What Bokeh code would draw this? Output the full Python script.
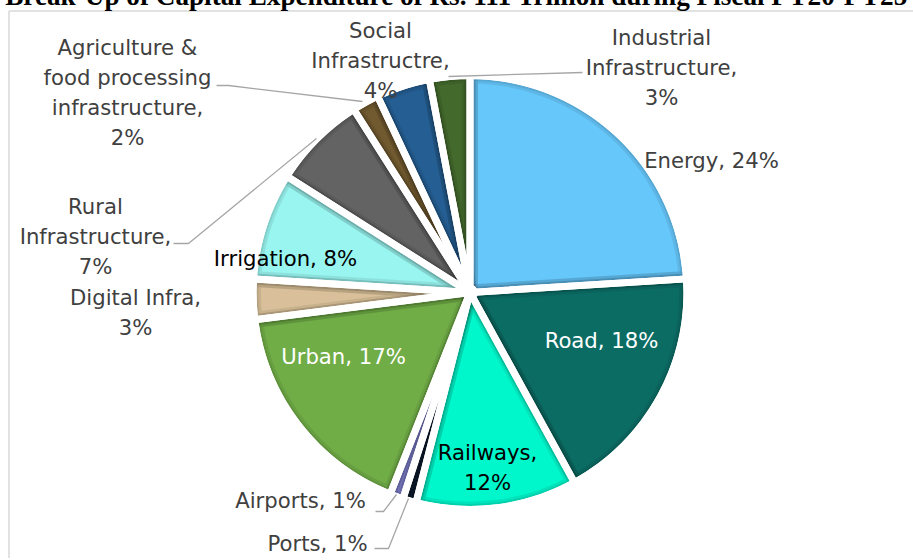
import math
from bokeh.plotting import figure
from bokeh.models import Range1d, ColumnDataSource
from bokeh.embed import file_html
from bokeh.resources import INLINE
from bokeh.core.properties import value

# ---------------- data ----------------
title_text = "Break-Up of Capital Expenditure of Rs. 111 Trillion during Fiscal FY20-FY25"
categories = ["Energy", "Road", "Railways", "Ports", "Airports", "Urban",
              "Digital Infra", "Irrigation", "Rural\nInfrastructure",
              "Agriculture &\nfood processing\ninfrastructure",
              "Social\nInfrastructre", "Industrial\nInfrastructure"]
shares = [24, 18, 12, 1, 1, 17, 3, 8, 7, 2, 4, 3]
separators = [" ", " ", "\n", " ", " ", " ", "\n", " ", "\n", "\n", "\n", "\n"]
colors = ["#66C7FA", "#0B6C64", "#00F7CB", "#0E1C30", "#8585D6", "#70AD47",
          "#D9C09A", "#98F5F0", "#636363", "#715A2F", "#245E92", "#43692C"]
label_colors = ["#404040", "#FFFFFF", "#000000", "#404040", "#404040", "#FFFFFF",
                "#404040", "#000000", "#404040", "#404040", "#404040", "#404040"]

# ---------------- layout (page pixel coords) ----------------
W, H = 913, 560
TOP = -2  # page y of figure top


def X(px):
    return px


def Y(py):
    return (TOP + H) - py


label_pos = [(711, 160), (601, 340), (487, 467), (317, 543), (300, 500), (343, 356),
             (135, 312), (285, 258), (95, 236), (127, 92), (380, 60), (661, 67)]
leaders = [
    [(173, 243), (188, 243), (316, 138)],
    [(216, 85), (228, 85), (362, 101)],
    [(582, 72), (448, 76)],
    [(375, 511), (383, 511), (396, 494)],
    [(374, 548), (388, 548), (408, 498)],
]
center = (469.5, 292)
radius = 217

p = figure(width=W, height=H, output_backend="svg", toolbar_location=None,
           x_range=Range1d(0, W), y_range=Range1d(0, H), min_border=0,
           outline_line_color=None, background_fill_color="white",
           border_fill_color="white")
p.axis.visible = False
p.grid.visible = False
p.styles = {"margin-top": "-2px"}

# wedges
cum = 0.0
starts, ends = [], []
total = float(sum(shares))
for s in shares:
    starts.append(math.radians(90 - cum / total * 360))
    cum += s
    ends.append(math.radians(90 - cum / total * 360))

src = ColumnDataSource(dict(start=starts, end=ends, color=colors,
                            name=categories, share=shares))
cx, cy = X(center[0]), Y(center[1])
# fill with a soft inner edge shading
p.wedge(x=cx, y=cy, radius=radius, start_angle="start", end_angle="end",
        direction="clock", fill_color="color", line_color="black", line_alpha=0.08,
        line_width=16, line_join="round", source=src)
p.wedge(x=cx, y=cy, radius=radius, start_angle="start", end_angle="end",
        direction="clock", fill_color=None, line_color="black", line_alpha=0.08,
        line_width=11, line_join="round", source=src)
# white separators
p.wedge(x=cx, y=cy, radius=radius, start_angle="start", end_angle="end",
        direction="clock", fill_color=None, line_color="white", line_width=7,
        line_join="round", source=src)
p.annulus(x=cx, y=cy, inner_radius=radius - 3.5, outer_radius=radius + 12,
          fill_color="white", line_color=None)
p.scatter(x=[cx], y=[cy], size=16, fill_color="white", line_color=None)

# chart border
p.line(x=[X(8.5), X(8.5)], y=[Y(10.5), Y(600)], line_color="#D9D9D9", line_width=1.5)
p.line(x=[X(8.5), X(1000)], y=[Y(10.5), Y(10.5)], line_color="#D9D9D9", line_width=1.5)

# leader lines
p.multi_line(xs=[[X(a) for a, b in l] for l in leaders],
             ys=[[Y(b) for a, b in l] for l in leaders],
             line_color="#A6A6A6", line_width=1.3)

# labels
labels = [f"{c},{sep}{v}%" for c, sep, v in zip(categories, separators, shares)]
lsrc = ColumnDataSource(dict(x=[X(a) for a, b in label_pos], y=[Y(b) for a, b in label_pos],
                             text=labels, color=label_colors))
p.text(x="x", y="y", text="text", text_color="color", source=lsrc,
       text_font=value("DejaVu Sans"), text_font_size="21.2px",
       text_align="center", text_baseline="middle", text_line_height=1.19)

# title (clipped at the top like in the original)
p.text(x=[X(456)], y=[Y(-5)], text=[title_text], text_font=value("Liberation Serif"),
       text_font_style="bold", text_font_size="27.2px", text_color="#000000",
       text_align="center", text_baseline="alphabetic")

open("out.html", "w").write(file_html(p, INLINE))
